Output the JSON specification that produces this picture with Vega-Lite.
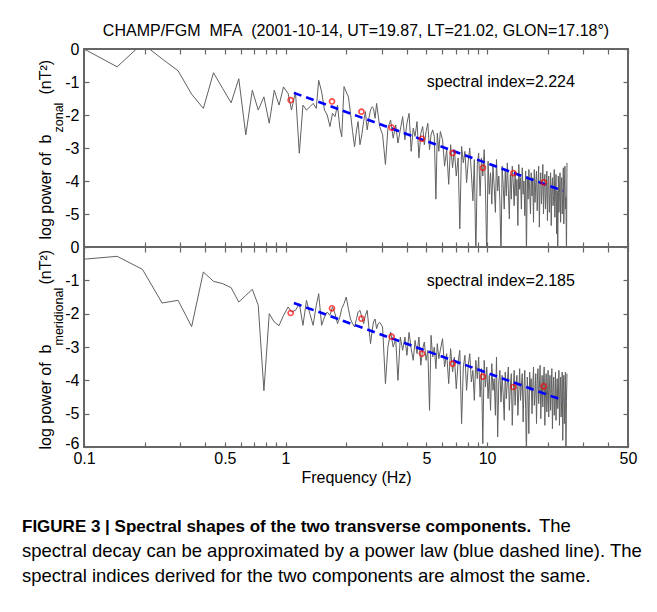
{
 "$schema": "https://vega.github.io/schema/vega-lite/v6.json",
 "padding": {"left": 21, "top": 22, "right": 5, "bottom": 5},
 "background": "white",
 "datasets": {
  "spec": [
{"f":0.098,"z":0.03,"m":-0.37},{"f":0.146,"z":-0.54,"m":-0.28},{"f":0.195,"z":0.17,"m":-0.67},{"f":0.244,"z":-0.3,"m":-1.68},{"f":0.293,"z":-0.66,"m":-1.6},{"f":0.342,"z":-1.37,"m":-2.39},{"f":0.391,"z":-1.8,"m":-0.75},{"f":0.439,"z":-0.72,"m":-1.03},{"f":0.488,"z":-1.2,"m":-1.1},{"f":0.537,"z":-1.63,"m":-1.22},{"f":0.586,"z":-0.9,"m":-1.65},{"f":0.635,"z":-2.6,"m":-1.45},{"f":0.684,"z":-1.25,"m":-1.27},{"f":0.732,"z":-1.85,"m":-1.75},{"f":0.781,"z":-1.45,"m":-4.31},{"f":0.83,"z":-2.25,"m":-2.0},{"f":0.879,"z":-1.25,"m":-2.25},{"f":0.928,"z":-1.7,"m":-2.36},{"f":0.977,"z":-1.15,"m":-2.05},{"f":1.03,"z":-1.35,"m":-1.8},{"f":1.07,"z":-1.85,"m":-1.95},{"f":1.12,"z":-1.3,"m":-1.9},{"f":1.17,"z":-3.16,"m":-1.7},{"f":1.22,"z":-1.7,"m":-2.35},{"f":1.27,"z":-1.85,"m":-1.6},{"f":1.32,"z":-1.75,"m":-2.0},{"f":1.37,"z":-1.65,"m":-2.35},{"f":1.42,"z":-1.8,"m":-1.75},{"f":1.46,"z":-0.95,"m":-1.4},{"f":1.51,"z":-1.3,"m":-2.35},{"f":1.56,"z":-1.85,"m":-2.1},{"f":1.61,"z":-2.0,"m":-1.95},{"f":1.66,"z":-2.35,"m":-2.05},{"f":1.71,"z":-1.95,"m":-1.8},{"f":1.76,"z":-2.05,"m":-2.0},{"f":1.81,"z":-1.7,"m":-2.3},{"f":1.86,"z":-2.4,"m":-2.1},{"f":1.9,"z":-2.66,"m":-1.85},{"f":1.95,"z":-1.14,"m":-1.7},{"f":2.0,"z":-1.3,"m":-1.5},{"f":2.05,"z":-1.45,"m":-1.85},{"f":2.1,"z":-1.95,"m":-2.16},{"f":2.15,"z":-2.5,"m":-2.3},{"f":2.2,"z":-2.96,"m":-2.4},{"f":2.25,"z":-2.45,"m":-2.15},{"f":2.29,"z":-2.2,"m":-1.95},{"f":2.34,"z":-2.9,"m":-1.9},{"f":2.39,"z":-2.6,"m":-2.1},{"f":2.44,"z":-2.2,"m":-2.3},{"f":2.49,"z":-1.9,"m":-2.05},{"f":2.54,"z":-2.45,"m":-1.9},{"f":2.59,"z":-2.1,"m":-2.4},{"f":2.64,"z":-1.85,"m":-2.9},{"f":2.69,"z":-1.75,"m":-2.5},{"f":2.73,"z":-1.8,"m":-2.25},{"f":2.78,"z":-2.1,"m":-2.16},{"f":2.83,"z":-1.65,"m":-2.45},{"f":2.88,"z":-2.0,"m":-2.3},{"f":2.93,"z":-2.35,"m":-2.26},
{"f":3.03,"z":-2.6,"m":-2.4},{"f":3.13,"z":-3.5,"m":-4.1},{"f":3.22,"z":-2.4,"m":-3.0},{"f":3.32,"z":-2.15,"m":-2.55},{"f":3.42,"z":-2.7,"m":-3.0},{"f":3.52,"z":-2.3,"m":-2.75},{"f":3.61,"z":-2.85,"m":-4.0},{"f":3.71,"z":-2.45,"m":-2.7},{"f":3.81,"z":-2.05,"m":-3.1},{"f":3.91,"z":-2.75,"m":-2.7},{"f":4.0,"z":-2.25,"m":-3.25},{"f":4.1,"z":-1.95,"m":-2.56},{"f":4.2,"z":-3.1,"m":-3.05},{"f":4.3,"z":-2.4,"m":-3.4},{"f":4.39,"z":-2.65,"m":-2.8},{"f":4.49,"z":-2.2,"m":-3.2},{"f":4.59,"z":-3.3,"m":-2.7},{"f":4.69,"z":-2.55,"m":-3.55},{"f":4.79,"z":-2.35,"m":-3.05},{"f":4.88,"z":-2.9,"m":-2.85},{"f":4.98,"z":-2.5,"m":-3.4},{"f":5.08,"z":-2.25,"m":-3.1},{"f":5.18,"z":-3.05,"m":-4.9},{"f":5.27,"z":-2.6,"m":-2.65},{"f":5.37,"z":-2.45,"m":-3.3},{"f":5.47,"z":-2.65,"m":-3.0},{"f":5.57,"z":-4.55,"m":-3.65},{"f":5.66,"z":-2.55,"m":-2.9},{"f":5.76,"z":-3.1,"m":-3.35},{"f":5.86,"z":-2.5,"m":-3.1},
{"f":6.01,"z":-2.75,"m":-2.75},{"f":6.15,"z":-3.55,"m":-3.6},{"f":6.3,"z":-3.05,"m":-3.2},{"f":6.45,"z":-4.1,"m":-4.1},{"f":6.59,"z":-2.9,"m":-3.05},{"f":6.74,"z":-3.6,"m":-3.75},{"f":6.88,"z":-3.05,"m":-3.3},{"f":7.03,"z":-3.85,"m":-4.25},{"f":7.18,"z":-3.3,"m":-3.45},{"f":7.32,"z":-5.45,"m":-3.1},{"f":7.47,"z":-2.95,"m":-5.3},{"f":7.62,"z":-3.45,"m":-3.6},{"f":7.76,"z":-3.1,"m":-3.25},{"f":7.91,"z":-4.05,"m":-4.3},{"f":8.06,"z":-3.4,"m":-3.55},{"f":8.2,"z":-3.0,"m":-3.2},{"f":8.35,"z":-3.75,"m":-4.05},{"f":8.5,"z":-4.6,"m":-3.7},{"f":8.64,"z":-3.35,"m":-4.6},{"f":8.79,"z":-6.3,"m":-3.4},{"f":8.94,"z":-3.5,"m":-3.95},{"f":9.08,"z":-3.15,"m":-3.3},{"f":9.23,"z":-4.45,"m":-4.5},{"f":9.38,"z":-3.3,"m":-3.65},{"f":9.52,"z":-3.85,"m":-5.9},{"f":9.67,"z":-3.05,"m":-3.4},{"f":9.81,"z":-4.2,"m":-4.2},
{"f":9.96,"z":-6.3,"m":-3.6},{"f":10.11,"z":-3.4,"m":-4.55},{"f":10.25,"z":-4.4,"m":-3.85},{"f":10.4,"z":-3.75,"m":-4.9},{"f":10.55,"z":-4.7,"m":-3.5},{"f":10.69,"z":-3.55,"m":-4.3},{"f":10.84,"z":-4.15,"m":-3.95},{"f":10.99,"z":-4.95,"m":-5.05},{"f":11.13,"z":-3.35,"m":-3.3},{"f":11.28,"z":-4.3,"m":-5.7},{"f":11.43,"z":-3.85,"m":-4.05},{"f":11.57,"z":-4.6,"m":-3.7},{"f":11.72,"z":-6.3,"m":-4.65},{"f":11.87,"z":-3.55,"m":-3.85},{"f":12.01,"z":-4.1,"m":-4.4},{"f":12.16,"z":-4.85,"m":-5.2},{"f":12.3,"z":-3.7,"m":-3.75},{"f":12.45,"z":-4.45,"m":-4.55},{"f":12.6,"z":-3.45,"m":-4.05},{"f":12.74,"z":-4.25,"m":-3.6},{"f":12.89,"z":-5.15,"m":-4.9},{"f":13.04,"z":-3.8,"m":-4.2},{"f":13.18,"z":-4.55,"m":-3.8},{"f":13.33,"z":-3.55,"m":-5.35},{"f":13.48,"z":-4.05,"m":-4.3},{"f":13.62,"z":-4.75,"m":-3.7},{"f":13.77,"z":-3.7,"m":-4.75},{"f":13.92,"z":-4.45,"m":-4.1},{"f":14.06,"z":-3.95,"m":-3.85},{"f":14.21,"z":-5.35,"m":-5.05},{"f":14.36,"z":-3.5,"m":-4.35},{"f":14.5,"z":-4.25,"m":-3.65},{"f":14.65,"z":-3.9,"m":-4.6},{"f":14.79,"z":-4.85,"m":-4.15},{"f":14.94,"z":-3.6,"m":-3.8},{"f":15.09,"z":-4.4,"m":-5.25},{"f":15.23,"z":-4.0,"m":-4.25},{"f":15.38,"z":-5.05,"m":-3.7},{"f":15.53,"z":-3.7,"m":-4.85},{"f":15.67,"z":-6.3,"m":-6.3},{"f":15.82,"z":-3.85,"m":-3.9},{"f":15.97,"z":-4.55,"m":-4.45},{"f":16.11,"z":-3.65,"m":-5.6},{"f":16.26,"z":-4.3,"m":-3.75},{"f":16.41,"z":-5.0,"m":-4.3},{"f":16.55,"z":-3.75,"m":-3.95},{"f":16.7,"z":-4.45,"m":-5.0},{"f":16.85,"z":-3.9,"m":-4.2},{"f":16.99,"z":-5.25,"m":-3.6},{"f":17.14,"z":-3.65,"m":-4.75},{"f":17.29,"z":-4.65,"m":-4.35},{"f":17.43,"z":-4.05,"m":-3.8},{"f":17.58,"z":-3.7,"m":-5.3},{"f":17.72,"z":-4.9,"m":-4.1},{"f":17.87,"z":-4.2,"m":-3.65},{"f":18.02,"z":-3.55,"m":-4.7},{"f":18.16,"z":-5.4,"m":-4.25},{"f":18.31,"z":-4.1,"m":-3.55},{"f":18.46,"z":-3.75,"m":-5.15},{"f":18.6,"z":-4.7,"m":-4.35},{"f":18.75,"z":-4.25,"m":-3.85},{"f":18.9,"z":-3.5,"m":-4.8},{"f":19.04,"z":-5.0,"m":-4.05},{"f":19.19,"z":-4.15,"m":-3.6},{"f":19.34,"z":-3.8,"m":-5.35},{"f":19.48,"z":-4.85,"m":-4.25},{"f":19.63,"z":-4.35,"m":-3.8},{"f":19.78,"z":-3.7,"m":-4.95},{"f":19.92,"z":-5.2,"m":-4.45},{"f":20.07,"z":-4.05,"m":-3.7},{"f":20.21,"z":-3.85,"m":-5.1},{"f":20.36,"z":-4.95,"m":-4.3},{"f":20.51,"z":-4.4,"m":-3.85},{"f":20.65,"z":-3.75,"m":-4.9},{"f":20.8,"z":-5.35,"m":-4.4},{"f":20.95,"z":-4.2,"m":-3.65},{"f":21.09,"z":-3.9,"m":-5.45},{"f":21.24,"z":-4.75,"m":-4.3},{"f":21.39,"z":-4.45,"m":-3.9},{"f":21.53,"z":-3.65,"m":-5.05},{"f":21.68,"z":-5.1,"m":-4.55},{"f":21.83,"z":-4.25,"m":-3.75},{"f":21.97,"z":-3.8,"m":-5.2},{"f":22.12,"z":-5.6,"m":-4.4},{"f":22.27,"z":-4.3,"m":-3.95},{"f":22.41,"z":-6.3,"m":-4.85},{"f":22.56,"z":-3.85,"m":-4.5},{"f":22.71,"z":-4.95,"m":-3.7},{"f":22.85,"z":-4.35,"m":-5.35},{"f":23.0,"z":-3.75,"m":-4.35},{"f":23.15,"z":-5.25,"m":-3.9},{"f":23.29,"z":-4.15,"m":-5.1},{"f":23.44,"z":-3.9,"m":-4.6},{"f":23.58,"z":-5.0,"m":-3.75},{"f":23.73,"z":-4.4,"m":-5.8},{"f":23.88,"z":-3.6,"m":-4.25},{"f":24.02,"z":-5.3,"m":-3.85},{"f":24.17,"z":-4.2,"m":-5.3},{"f":24.32,"z":-3.55,"m":-4.45},{"f":24.46,"z":-4.85,"m":-3.75},{"f":24.61,"z":-4.5,"m":-6.3},{"f":24.76,"z":-6.3,"m":-4.6},{"f":24.9,"z":-3.45,"m":-3.8}
  ],
  "circ": [
{"f":1.06,"z":-1.55,"m":-1.98},{"f":1.7,"z":-1.59,"m":-1.84},{"f":2.38,"z":-1.9,"m":-2.15},{"f":3.36,"z":-2.38,"m":-2.69},{"f":4.75,"z":-2.72,"m":-3.2},{"f":6.74,"z":-3.15,"m":-3.5},{"f":9.53,"z":-3.6,"m":-3.89},{"f":13.5,"z":-3.76,"m":-4.2},{"f":19.1,"z":-4.04,"m":-4.18}
  ],
  "fit": [{"f":1.1,"z":-1.33,"m":-1.68},{"f":23.8,"z":-4.3,"m":-4.6}],
  "ann": [{"f":11.7,"z":-1.0,"m":-1.03,"tz":"spectral index=2.224","tm":"spectral index=2.185"}]
 },
 "title": {"text": "The", "orient": "bottom", "anchor": "start", "frame": "group", "dx": 455, "dy": -70, "offset": 0, "fontSize": 18.5, "fontWeight": "normal", "color": "#000000"},
 "spacing": 0,
 "bounds": "flush",
 "vconcat": [
  {
   "width": 544, "height": 198,
   "title": {"text": "CHAMP/FGM\u00a0 MFA\u00a0 (2001-10-14, UT=19.87, LT=21.02, GLON=17.18°)", "fontSize": 16, "fontWeight": "normal", "anchor": "middle", "frame": "group", "offset": 2, "color": "#000000"},
   "resolve": {"axis": {"x": "independent", "y": "independent"}},
   "layer": [
    {"data": {"name": "spec"}, "mark": {"type": "line", "color": "#616161", "strokeWidth": 1, "clip": true},
     "encoding": {
      "x": {"field": "f", "type": "quantitative", "scale": {"type": "log", "domain": [0.1, 50], "nice": false}, "axis": {"orient": "bottom", "values": [0.1,0.2,0.3,0.4,0.5,0.6,0.7,0.8,0.9,1,2,3,4,5,6,7,8,9,10,20,30,40,50], "labels": false, "title": null, "tickSize": -5}},
      "y": {"field": "z", "type": "quantitative", "scale": {"domain": [-6, 0], "nice": false, "zero": false}, "axis": {"orient": "left", "values": [0,-1,-2,-3,-4,-5], "labelExpr": "'' + datum.value", "tickSize": -5, "labelPadding": 10, "title": "log power of\u00a0 b", "titleX": -34, "titleY": 190, "titleAlign": "left", "titleBaseline": "alphabetic", "titleAngle": 270}}
     }},
    {"data": {"name": "fit"}, "mark": {"type": "line", "color": "#0000ff", "strokeWidth": 2.6, "strokeDash": [8, 5]},
     "encoding": {
      "x": {"field": "f", "type": "quantitative", "scale": {"type": "log", "domain": [0.1, 50], "nice": false}, "axis": null},
      "y": {"field": "z", "type": "quantitative", "scale": {"domain": [-6, 0], "nice": false, "zero": false}, "axis": {"orient": "left", "labels": false, "ticks": false, "title": "(nT²)", "titleX": -34, "titleY": 45, "titleAlign": "left", "titleBaseline": "alphabetic", "titleAngle": 270}}
     }},
    {"data": {"name": "circ"}, "mark": {"type": "point", "shape": "circle", "filled": false, "color": "#ff0000", "size": 26, "strokeWidth": 1.6},
     "encoding": {
      "x": {"field": "f", "type": "quantitative", "scale": {"type": "log", "domain": [0.1, 50], "nice": false}, "axis": {"orient": "top", "values": [0.1,0.2,0.3,0.4,0.5,0.6,0.7,0.8,0.9,1,2,3,4,5,6,7,8,9,10,20,30,40,50], "labels": false, "title": null, "tickSize": -5}},
      "y": {"field": "z", "type": "quantitative", "scale": {"domain": [-6, 0], "nice": false, "zero": false}, "axis": {"orient": "left", "labels": false, "ticks": false, "title": "zonal", "titleFontSize": 12.5, "titleX": -22, "titleY": 83, "titleAlign": "left", "titleBaseline": "alphabetic", "titleAngle": 270}}
     }},
    {"data": {"name": "ann"}, "mark": {"type": "text", "fontSize": 16, "color": "#000000", "align": "center", "baseline": "middle"},
     "encoding": {
      "x": {"field": "f", "type": "quantitative", "scale": {"type": "log", "domain": [0.1, 50], "nice": false}, "axis": null},
      "y": {"field": "z", "type": "quantitative", "scale": {"domain": [-6, 0], "nice": false, "zero": false}, "axis": {"orient": "right", "values": [0,-1,-2,-3,-4,-5,-6], "labels": false, "tickSize": -5, "title": null}},
      "text": {"field": "tz"}
     }}
   ]
  },
  {
   "width": 544, "height": 200,
   "title": {"text": "FIGURE 3 | Spectral shapes of the two transverse components.", "subtitle": ["spectral decay can be approximated by a power law (blue dashed line). The", "spectral indices derived for the two components are almost the same."], "orient": "bottom", "anchor": "start", "frame": "group", "dx": -62, "offset": 34, "fontSize": 17, "fontWeight": "bold", "color": "#000000", "subtitleFontSize": 18.5, "subtitleFontWeight": "normal", "subtitleColor": "#000000", "subtitlePadding": 6, "subtitleLineHeight": 25},
   "resolve": {"axis": {"x": "independent", "y": "independent"}},
   "layer": [
    {"data": {"name": "spec"}, "mark": {"type": "line", "color": "#616161", "strokeWidth": 1, "clip": true},
     "encoding": {
      "x": {"field": "f", "type": "quantitative", "scale": {"type": "log", "domain": [0.1, 50], "nice": false}, "axis": {"orient": "bottom", "values": [0.1,0.2,0.3,0.4,0.5,0.6,0.7,0.8,0.9,1,2,3,4,5,6,7,8,9,10,20,30,40,50], "labelExpr": "indexof([0.1,0.5,1,5,10,50], datum.value) >= 0 ? format(datum.value, '~g') : ''", "labelFlush": false, "tickSize": -5, "labelPadding": 8, "title": "Frequency (Hz)", "titlePadding": 3}},
      "y": {"field": "m", "type": "quantitative", "scale": {"domain": [-6, 0], "nice": false, "zero": false}, "axis": {"orient": "left", "values": [0,-1,-2,-3,-4,-5,-6], "labelExpr": "'' + datum.value", "labelOffset": {"condition": {"test": "datum.value == -6", "value": -4}, "value": 0}, "tickSize": -5, "labelPadding": 10, "title": "log power of\u00a0 b", "titleX": -34, "titleY": 202, "titleAlign": "left", "titleBaseline": "alphabetic", "titleAngle": 270}}
     }},
    {"data": {"name": "fit"}, "mark": {"type": "line", "color": "#0000ff", "strokeWidth": 2.6, "strokeDash": [8, 5]},
     "encoding": {
      "x": {"field": "f", "type": "quantitative", "scale": {"type": "log", "domain": [0.1, 50], "nice": false}, "axis": null},
      "y": {"field": "m", "type": "quantitative", "scale": {"domain": [-6, 0], "nice": false, "zero": false}, "axis": {"orient": "left", "labels": false, "ticks": false, "title": "(nT²)", "titleX": -34, "titleY": 37, "titleAlign": "left", "titleBaseline": "alphabetic", "titleAngle": 270}}
     }},
    {"data": {"name": "circ"}, "mark": {"type": "point", "shape": "circle", "filled": false, "color": "#ff0000", "size": 26, "strokeWidth": 1.6},
     "encoding": {
      "x": {"field": "f", "type": "quantitative", "scale": {"type": "log", "domain": [0.1, 50], "nice": false}, "axis": {"orient": "top", "values": [0.1,0.2,0.3,0.4,0.5,0.6,0.7,0.8,0.9,1,2,3,4,5,6,7,8,9,10,20,30,40,50], "labels": false, "title": null, "tickSize": -5}},
      "y": {"field": "m", "type": "quantitative", "scale": {"domain": [-6, 0], "nice": false, "zero": false}, "axis": {"orient": "left", "labels": false, "ticks": false, "title": "meridional", "titleFontSize": 12.5, "titleX": -22, "titleY": 98, "titleAlign": "left", "titleBaseline": "alphabetic", "titleAngle": 270}}
     }},
    {"data": {"name": "ann"}, "mark": {"type": "text", "fontSize": 16, "color": "#000000", "align": "center", "baseline": "middle"},
     "encoding": {
      "x": {"field": "f", "type": "quantitative", "scale": {"type": "log", "domain": [0.1, 50], "nice": false}, "axis": null},
      "y": {"field": "m", "type": "quantitative", "scale": {"domain": [-6, 0], "nice": false, "zero": false}, "axis": {"orient": "right", "values": [0,-1,-2,-3,-4,-5,-6], "labels": false, "tickSize": -5, "title": null}},
      "text": {"field": "tm"}
     }}
   ]
  }
 ],
 "config": {
  "font": "Liberation Sans",
  "view": {"stroke": "#666666", "strokeWidth": 2},
  "axis": {"domain": false, "grid": false, "tickColor": "#666666", "tickWidth": 1.2, "labelFont": "Liberation Sans", "labelFontSize": 16, "labelColor": "#000000", "titleFont": "Liberation Sans", "titleFontSize": 16, "titleFontWeight": "normal", "titleColor": "#000000"},
  "title": {"font": "Liberation Sans", "subtitleFont": "Liberation Sans"}
 }
}
